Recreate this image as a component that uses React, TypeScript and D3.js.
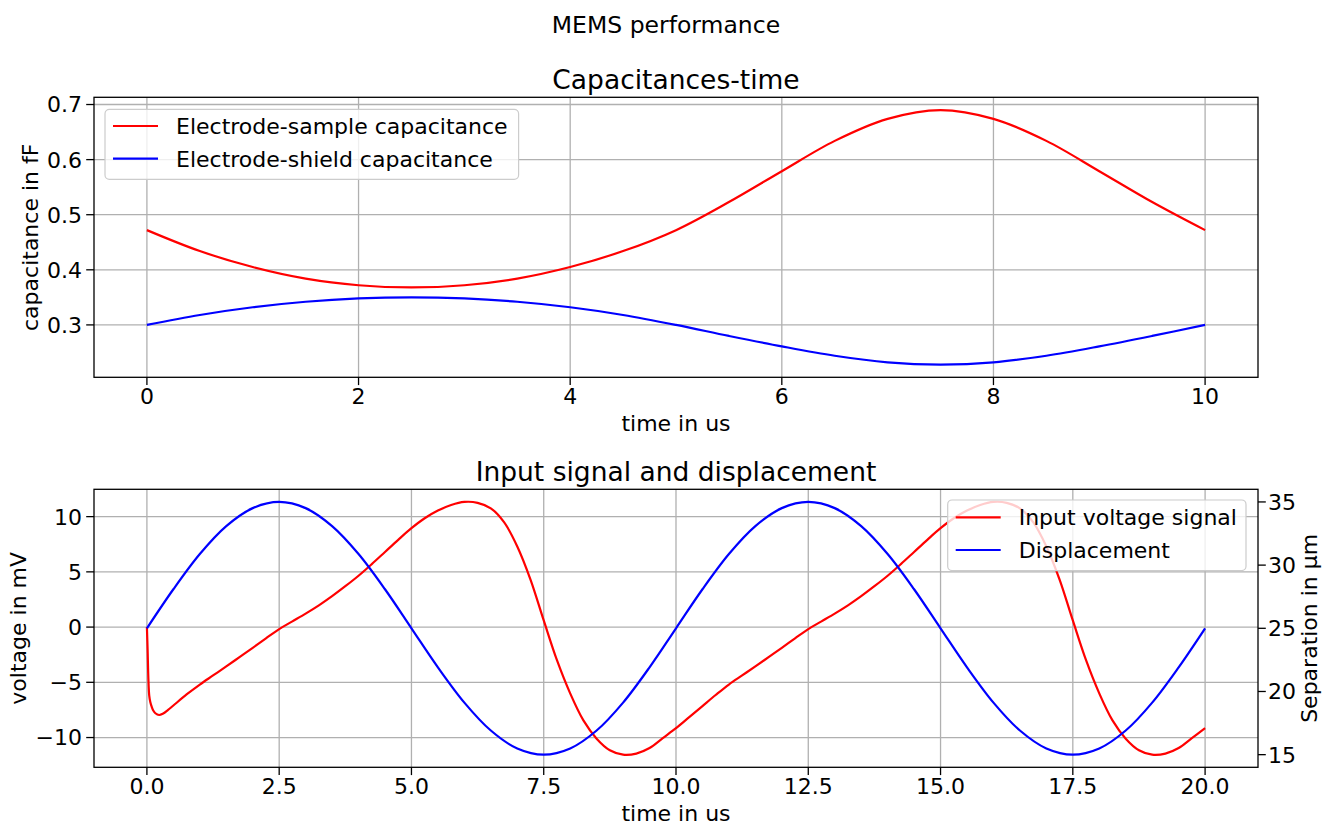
import React from "react";
import * as d3 from "d3";

// ---------- data ----------
const capTime = [0, 0.5, 1, 1.5, 2, 2.5, 3, 3.5, 4, 4.5, 5, 5.5, 6, 6.5, 7, 7.5, 8, 8.5, 9, 9.5, 10];
const capSample = [0.472, 0.434, 0.405, 0.384, 0.372, 0.368, 0.372, 0.384, 0.405, 0.434, 0.472, 0.523, 0.579, 0.634, 0.674, 0.690, 0.674, 0.634, 0.579, 0.523, 0.472];
const capShield = [0.300, 0.318, 0.332, 0.342, 0.348, 0.350, 0.348, 0.342, 0.332, 0.318, 0.300, 0.280, 0.261, 0.244, 0.232, 0.228, 0.232, 0.244, 0.261, 0.280, 0.300];

const sigTime = [
  0, 0.013, 0.028, 0.044, 0.065, 0.09, 0.12, 0.16, 0.23, 0.3, 0.4, 0.5, 0.75,
  1, 1.25, 1.5, 1.75, 2, 2.25, 2.5, 2.75, 3, 3.25, 3.5, 3.75, 4, 4.25, 4.5, 4.75,
  5, 5.25, 5.5, 5.75, 6, 6.25, 6.5, 6.75, 7, 7.25, 7.5, 7.75, 8, 8.25, 8.5, 8.75,
  9, 9.25, 9.5, 9.75, 10, 10.25, 10.5, 10.75, 11, 11.25, 11.5, 11.75, 12, 12.25,
  12.5, 12.75, 13, 13.25, 13.5, 13.75, 14, 14.25, 14.5, 14.75, 15, 15.25, 15.5,
  15.75, 16, 16.25, 16.5, 16.75, 17, 17.25, 17.5, 17.75, 18, 18.25, 18.5, 18.75,
  19, 19.25, 19.5, 19.75, 20,
];
const sigVoltage = [
  0, -2.0, -4.7, -6.2, -6.8, -7.2, -7.55, -7.8, -7.96, -7.85, -7.5, -7.1, -6.1,
  -5.2, -4.38, -3.56, -2.72, -1.88, -1.02, -0.18, 0.52, 1.22, 1.97, 2.8, 3.7, 4.65, 5.7, 6.8, 7.9,
  8.95, 9.85, 10.55, 11.05, 11.33, 11.25, 10.75, 9.5, 7.3, 4.3, 0.6, -3.0, -6.0, -8.45, -10.1, -11.15,
  -11.55, -11.45, -10.95, -10.05, -9.15, -8.15, -7.15, -6.15, -5.2, -4.38, -3.56, -2.72, -1.88, -1.02,
  -0.18, 0.52, 1.22, 1.97, 2.8, 3.7, 4.65, 5.7, 6.8, 7.9, 8.95, 9.85, 10.55,
  11.05, 11.33, 11.25, 10.75, 9.5, 7.3, 4.3, 0.6, -3.0, -6.0, -8.45, -10.1, -11.15,
  -11.55, -11.45, -10.95, -10.05, -9.15,
];

const dispTime = [
  0, 0.5, 1, 1.5, 2, 2.5, 3, 3.5, 4, 4.5, 5, 5.5, 6, 6.5, 7, 7.5, 8, 8.5, 9, 9.5,
  10, 10.5, 11, 11.5, 12, 12.5, 13, 13.5, 14, 14.5, 15, 15.5, 16, 16.5, 17, 17.5, 18, 18.5, 19, 19.5, 20,
];
const dispSeparation = [
  25, 28.09, 30.88, 33.09, 34.51, 35, 34.51, 33.09, 30.88, 28.09, 25, 21.91, 19.12, 16.91, 15.49, 15, 15.49, 16.91, 19.12, 21.91,
  25, 28.09, 30.88, 33.09, 34.51, 35, 34.51, 33.09, 30.88, 28.09, 25, 21.91, 19.12, 16.91, 15.49, 15, 15.49, 16.91, 19.12, 21.91, 25,
];

const capXTicks = [0, 2, 4, 6, 8, 10];
const capYTicks = [0.3, 0.4, 0.5, 0.6, 0.7];
const sigXTicks = [0, 2.5, 5, 7.5, 10, 12.5, 15, 17.5, 20];
const sigYTicks = [-10, -5, 0, 5, 10];
const sepYTicks = [15, 20, 25, 30, 35];

// ---------- layout ----------
const W = 1322;
const H = 825;
const FONT = "'DejaVu Sans', sans-serif";
const FS = 22;
const GRID = "#b0b0b0";

function padded(values: number[]): [number, number] {
  const [lo, hi] = d3.extent(values) as [number, number];
  const m = (hi - lo) * 0.05;
  return [lo - m, hi + m];
}

const fmtMinus = (s: string) => s.replace("-", "\u2212");

function Legend({ x, y, w, h, items }: { x: number; y: number; w: number; h: number; items: { label: string; color: string; dy: number }[] }) {
  return (
    <g>
      <rect x={x} y={y} width={w} height={h} rx={4.4} ry={4.4} fill="white" fillOpacity={0.8} stroke="#cccccc" strokeWidth={1.2} />
      {items.map((it) => (
        <g key={it.label}>
          <line x1={x + 8} x2={x + 53} y1={y + it.dy} y2={y + it.dy} stroke={it.color} strokeWidth={2.2} />
          <text x={x + 71} y={y + it.dy} dy="0.36em" fontSize={FS} fontFamily={FONT} fill="#000">{it.label}</text>
        </g>
      ))}
    </g>
  );
}

export default function App() {
  // ---- top axes ----
  const t = { l: 94, r: 1258, top: 97.3, b: 377.3 };
  const xTop = d3.scaleLinear().domain(padded(capTime)).range([t.l, t.r]);
  const yTop = d3.scaleLinear().domain(padded([...capSample, ...capShield])).range([t.b, t.top]);
  const lineTop = (vals: number[]) =>
    d3.line<number>().x((_, i) => xTop(capTime[i])).y((v) => yTop(v)).curve(d3.curveCatmullRom)(vals) || "";

  // ---- bottom axes ----
  const bt = { l: 94, r: 1258, top: 489.3, b: 767.3 };
  const xBot = d3.scaleLinear().domain(padded(sigTime)).range([bt.l, bt.r]);
  const yBot = d3.scaleLinear().domain(padded(sigVoltage)).range([bt.b, bt.top]);
  const yRight = d3.scaleLinear().domain(padded(dispSeparation)).range([bt.b, bt.top]);
  const sigPath =
    d3.line<number>().x((_, i) => xBot(sigTime[i])).y((v) => yBot(v)).curve(d3.curveCatmullRom.alpha(0.5))(sigVoltage) || "";
  const dispPath =
    d3.line<number>().x((_, i) => xBot(dispTime[i])).y((v) => yRight(v)).curve(d3.curveCatmullRom)(dispSeparation) || "";

  const TL = 7.8; // tick length
  const spine = 1.3;

  return (
    <svg width={W} height={H} style={{ position: "absolute", left: 0, top: 0, background: "white" }} fontFamily={FONT}>
      <rect x={0} y={0} width={W} height={H} fill="white" />
      <text x={666} y={33} textAnchor="middle" fontSize={23.5}>MEMS performance</text>

      {/* ================= TOP ================= */}
      <text x={(t.l + t.r) / 2} y={89} textAnchor="middle" fontSize={26.5}>Capacitances-time</text>
      <defs>
        <clipPath id="clipTop"><rect x={t.l} y={t.top} width={t.r - t.l} height={t.b - t.top} /></clipPath>
        <clipPath id="clipBot"><rect x={bt.l} y={bt.top} width={bt.r - bt.l} height={bt.b - bt.top} /></clipPath>
      </defs>
      <g>
        {capXTicks.map((v) => (
          <line key={"gx" + v} x1={xTop(v)} x2={xTop(v)} y1={t.top} y2={t.b} stroke={GRID} strokeWidth={1.3} />
        ))}
        {capYTicks.map((v) => (
          <line key={"gy" + v} x1={t.l} x2={t.r} y1={yTop(v)} y2={yTop(v)} stroke={GRID} strokeWidth={1.3} />
        ))}
      </g>
      <g clipPath="url(#clipTop)">
        <path d={lineTop(capSample)} fill="none" stroke="red" strokeWidth={2.2} />
        <path d={lineTop(capShield)} fill="none" stroke="blue" strokeWidth={2.2} />
      </g>
      <rect x={t.l} y={t.top} width={t.r - t.l} height={t.b - t.top} fill="none" stroke="black" strokeWidth={spine} />
      {capXTicks.map((v) => (
        <g key={"tx" + v}>
          <line x1={xTop(v)} x2={xTop(v)} y1={t.b} y2={t.b + TL} stroke="black" strokeWidth={spine} />
          <text x={xTop(v)} y={t.b + 27} textAnchor="middle" fontSize={FS}>{d3.format("d")(v)}</text>
        </g>
      ))}
      {capYTicks.map((v) => (
        <g key={"ty" + v}>
          <line x1={t.l - TL} x2={t.l} y1={yTop(v)} y2={yTop(v)} stroke="black" strokeWidth={spine} />
          <text x={82} y={yTop(v)} dy="0.36em" textAnchor="end" fontSize={FS}>{d3.format(".1f")(v)}</text>
        </g>
      ))}
      <text x={(t.l + t.r) / 2} y={431} textAnchor="middle" fontSize={FS}>time in us</text>
      <text transform={`translate(38,${(t.top + t.b) / 2}) rotate(-90)`} textAnchor="middle" fontSize={FS}>capacitance in fF</text>
      <Legend
        x={105}
        y={109.3}
        w={413.6}
        h={70}
        items={[
          { label: "Electrode-sample capacitance", color: "red", dy: 16.7 },
          { label: "Electrode-shield capacitance", color: "blue", dy: 49.4 },
        ]}
      />

      {/* ================= BOTTOM ================= */}
      <text x={(bt.l + bt.r) / 2} y={481} textAnchor="middle" fontSize={26.5}>Input signal and displacement</text>
      <g>
        {sigXTicks.map((v) => (
          <line key={"bgx" + v} x1={xBot(v)} x2={xBot(v)} y1={bt.top} y2={bt.b} stroke={GRID} strokeWidth={1.3} />
        ))}
        {sigYTicks.map((v) => (
          <line key={"bgy" + v} x1={bt.l} x2={bt.r} y1={yBot(v)} y2={yBot(v)} stroke={GRID} strokeWidth={1.3} />
        ))}
      </g>
      <g clipPath="url(#clipBot)">
        <path d={sigPath} fill="none" stroke="red" strokeWidth={2.2} />
      </g>
      <Legend
        x={947.7}
        y={500}
        w={298.3}
        h={70.7}
        items={[
          { label: "Input voltage signal", color: "red", dy: 17.3 },
          { label: "Displacement", color: "blue", dy: 50 },
        ]}
      />
      <g clipPath="url(#clipBot)">
        <path d={dispPath} fill="none" stroke="blue" strokeWidth={2.2} />
      </g>
      <rect x={bt.l} y={bt.top} width={bt.r - bt.l} height={bt.b - bt.top} fill="none" stroke="black" strokeWidth={spine} />
      {sigXTicks.map((v) => (
        <g key={"bx" + v}>
          <line x1={xBot(v)} x2={xBot(v)} y1={bt.b} y2={bt.b + TL} stroke="black" strokeWidth={spine} />
          <text x={xBot(v)} y={bt.b + 27} textAnchor="middle" fontSize={FS}>{d3.format(".1f")(v)}</text>
        </g>
      ))}
      {sigYTicks.map((v) => (
        <g key={"by" + v}>
          <line x1={bt.l - TL} x2={bt.l} y1={yBot(v)} y2={yBot(v)} stroke="black" strokeWidth={spine} />
          <text x={82} y={yBot(v)} dy="0.36em" textAnchor="end" fontSize={FS}>{fmtMinus(d3.format("d")(v))}</text>
        </g>
      ))}
      {sepYTicks.map((v) => (
        <g key={"ry" + v}>
          <line x1={bt.r} x2={bt.r + TL} y1={yRight(v)} y2={yRight(v)} stroke="black" strokeWidth={spine} />
          <text x={1268} y={yRight(v)} dy="0.36em" textAnchor="start" fontSize={FS}>{d3.format("d")(v)}</text>
        </g>
      ))}
      <text x={(bt.l + bt.r) / 2} y={821} textAnchor="middle" fontSize={FS}>time in us</text>
      <text transform={`translate(26,${(bt.top + bt.b) / 2}) rotate(-90)`} textAnchor="middle" fontSize={FS}>voltage in mV</text>
      <text transform={`translate(1317,${(bt.top + bt.b) / 2}) rotate(-90)`} textAnchor="middle" fontSize={FS}>Separation in µm</text>
    </svg>
  );
}
